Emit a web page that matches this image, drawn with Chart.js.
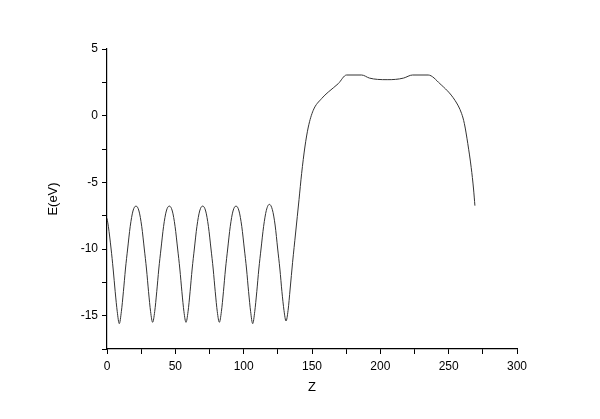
<!DOCTYPE html>
<html>
<head>
<meta charset="utf-8">
<script src="https://cdn.jsdelivr.net/npm/chart.js@4"></script>
<style>
  html, body { margin: 0; padding: 0; background: #fff; }
  #wrap { width: 600px; height: 419px; }
</style>
</head>
<body>
<div id="wrap"><canvas id="chart"></canvas></div>
<script>
// Datos
const zValues = [
  0, 1, 3, 4.5, 6, 7.5, 9,
  10.5, 12, 13.5, 15.1, 17, 19, 21.2,
  23.4, 25.4, 27.3, 28.9, 30.4, 31.9, 33.4,
  34.9, 36.4, 37.9, 39.5, 41.4, 43.4, 45.6,
  47.8, 49.8, 51.7, 53.3, 54.8, 56.3, 57.8,
  59.3, 60.8, 62.3, 63.9, 65.8, 67.8, 70.0,
  72.2, 74.2, 76.1, 77.7, 79.2, 80.7, 82.2,
  83.7, 85.2, 86.7, 88.3, 90.2, 92.2, 94.4,
  96.6, 98.6, 100.5, 102.1, 103.6, 105.1, 106.6,
  108.1, 109.6, 111.1, 112.7, 114.6, 116.6, 118.8,
  121, 123, 124.9, 126.5, 128, 129.5, 131,
  132.5, 134, 135.8, 138, 140.5, 142.4, 144.8, 147.3, 150.9, 157, 161.9, 169.2, 175.3,
  186.3, 192, 198, 205, 211, 217, 223.6,
  235, 243.6, 254.6, 259.5, 261.5, 264, 266.5, 268.2, 269.2
];
const eValues = [
  -7.7, -8.3, -10.0, -11.5, -13.2, -14.7, -15.6,
  -14.7, -13.2, -11.5, -10.0, -8.3, -7.15, -6.78,
  -7.15, -8.3, -10.0, -11.5, -13.2, -14.7, -15.5,
  -14.7, -13.2, -11.5, -10.0, -8.3, -7.15, -6.78,
  -7.15, -8.3, -10.0, -11.5, -13.2, -14.7, -15.5,
  -14.7, -13.2, -11.5, -10.0, -8.3, -7.15, -6.78,
  -7.15, -8.3, -10.0, -11.5, -13.2, -14.7, -15.5,
  -14.7, -13.2, -11.5, -10.0, -8.3, -7.15, -6.78,
  -7.15, -8.3, -10.0, -11.5, -13.2, -14.7, -15.6,
  -14.7, -13.2, -11.5, -10.0, -8.3, -7.1, -6.65,
  -7.05, -8.2, -10.0, -11.5, -13.2, -14.6, -15.4,
  -14.6, -13.0, -11.0, -8.8, -6.3, -4.35, -2.35, -0.85, 0.4, 1.28, 1.77, 2.4, 3.05,
  3.05, 2.82, 2.72, 2.7, 2.72, 2.82, 3.05,
  3.05, 2.4, 1.15, 0.15, -0.6, -2.1, -3.9, -5.5, -6.75
];
const xTicks = [0, 50, 100, 150, 200, 250, 300];
const yTicks = [-15, -10, -5, 0, 5];

const puntos = zValues.map((z, i) => ({ x: z, y: eValues[i] }));

new Chart(document.getElementById('chart').getContext('2d'), {
  type: 'line',
  data: {
    datasets: [{
      data: puntos,
      borderColor: '#333',
      borderWidth: 1,
      pointRadius: 0,
      cubicInterpolationMode: 'monotone',
      fill: false
    }]
  },
  options: {
    responsive: true,
    maintainAspectRatio: false,
    animation: false,
    layout: { padding: { left: 46, right: 83, top: 49, bottom: 24 } },
    plugins: { legend: { display: false }, tooltip: { enabled: false } },
    scales: {
      x: {
        type: 'linear',
        min: 0,
        max: 300,
        afterFit: s => { s.height = 46; },
        border: { display: true, color: '#000', width: 1.2 },
        grid: { drawOnChartArea: false, drawTicks: true, tickLength: 5, color: '#000', lineWidth: 1 },
        ticks: {
          stepSize: 25,
          color: '#000',
          font: { family: 'Liberation Sans, Arial', size: 12 },
          padding: 5,
          maxRotation: 0,
          callback: v => xTicks.includes(v) ? String(v) : ''
        },
        title: {
          display: true, text: 'Z', color: '#000',
          font: { family: 'Liberation Sans, Arial', size: 13 },
          padding: { top: 4, bottom: 0 }
        }
      },
      y: {
        min: -17.5,
        max: 5,
        afterFit: s => { s.width = 61; },
        border: { display: true, color: '#000', width: 1.2 },
        grid: { drawOnChartArea: false, drawTicks: true, tickLength: 5, color: '#000', lineWidth: 1 },
        ticks: {
          stepSize: 2.5,
          color: '#000',
          font: { family: 'Liberation Sans, Arial', size: 12 },
          padding: 4,
          callback: v => yTicks.includes(v) ? String(v) : ''
        },
        title: {
          display: true, text: 'E(eV)', color: '#000',
          font: { family: 'Liberation Sans, Arial', size: 13 },
          padding: { top: 0, bottom: 0 }
        }
      }
    }
  }
});
</script>
</body>
</html>
